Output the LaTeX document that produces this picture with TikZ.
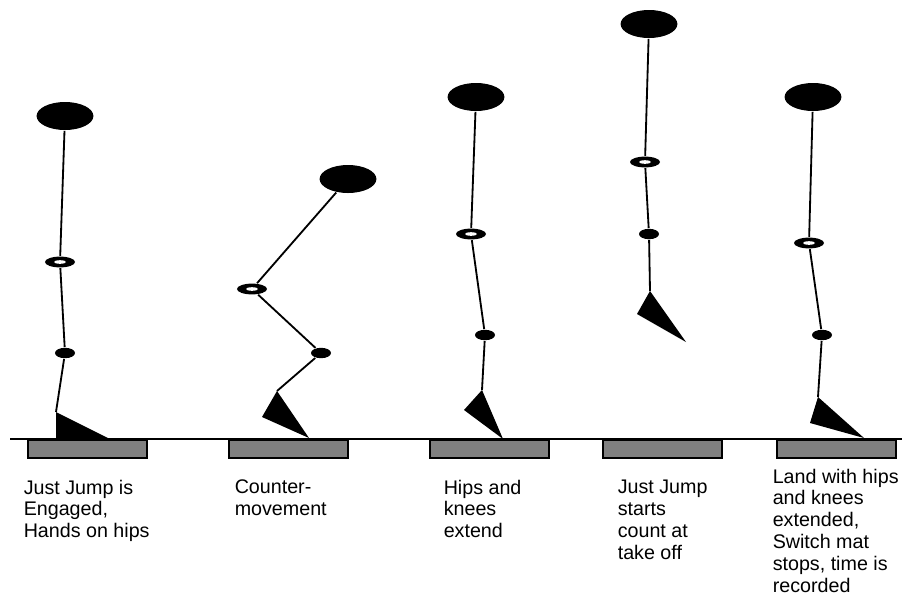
\documentclass[tikz,border=0pt]{standalone}
\usepackage{fontspec}
\setmainfont{Liberation Sans}
\usepackage{tikz}
\usetikzlibrary{shapes.geometric}
\tikzset{every picture/.style={line width=1.1pt}}
\tikzset{
 head/.style={ellipse,fill=black,inner sep=0pt,minimum width=1.42cm,minimum height=.7cm},
 hipring/.style={ellipse,fill=black,inner sep=0pt,minimum width=.75cm,minimum height=.27cm},
 kneedot/.style={ellipse,fill=black,inner sep=0pt,minimum width=.5cm,minimum height=.26cm},
 limb/.style={line width=1.3pt},
 mat/.style={fill=black!50,draw=black,line width=1.3pt},
 caption/.style={anchor=north west,inner sep=0pt,align=left,
  font=\fontsize{14}{15.6}\selectfont}
}
% #1 name, #2 head, #3 hip, #4 knee, #5 ankle, #6 heel, #7 toe
\newcommand{\jumper}[7]{%
 \node[head] (#1-head) at #2 {};
 \node[hipring] (#1-hip) at #3 {};
 \fill[white] (#1-hip) ellipse (.15cm and .045cm);
 \node[kneedot] (#1-knee) at #4 {};
 \coordinate (#1-ankle) at #5;
 \draw[limb] (#1-head) -- (#1-hip);
 \draw[limb] (#1-hip) -- (#1-knee);
 \draw[limb] (#1-knee) -- (#1-ankle);
 \fill (#1-ankle) -- #6 -- #7 -- cycle;
}

\begin{document}
\begin{tikzpicture}[x=.025cm,y=-.025cm]
 \useasboundingbox (0,0) rectangle (902,600);
 % switch mats and floor
 \foreach \mx in {28,229,430,603,777}
  \draw[mat] (\mx,440) rectangle ++(119,18);
 \draw (10,439) -- (902,439);
 % the five phases of the jump
 \jumper{stand}{(65,116)}{(60,262)}{(65,353)}{(56,412)}{(56,439)}{(110,439)}
 \jumper{squat}{(348,179)}{(252,289)}{(321,353)}{(277,391)}{(262,417)}{(309,438)}
 \jumper{push}{(476,97)}{(471,234)}{(485,335)}{(482,390)}{(464,410)}{(503,439)}
 \jumper{air}{(649,24)}{(645,162)}{(649,234)}{(650,291)}{(637,314)}{(686,342)}
 \jumper{land}{(813,97)}{(809,243)}{(822,335)}{(818,397)}{(810,423)}{(864,438)}
 % captions
 \node[caption] (c-stand) at (23,479) {Just Jump is\\Engaged,\\Hands on hips};
 \node[caption] (c-squat) at (234,479) {Counter-\\movement};
 \node[caption] (c-push) at (443,479) {Hips and\\knees\\extend};
 \node[caption] (c-air) at (617,479) {Just Jump\\starts\\count at\\take off};
 \node[caption] (c-land) at (772,468) {Land with hips\\and knees\\extended,\\Switch mat\\stops, time is\\recorded};
\end{tikzpicture}
\end{document}
